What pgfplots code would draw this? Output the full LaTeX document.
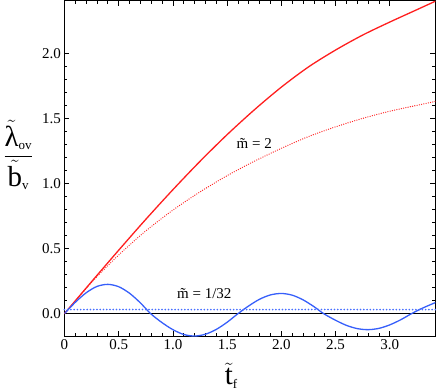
\documentclass[border=0pt]{standalone}
\usepackage{amsmath}
\usepackage{fontspec}
\setmainfont{Liberation Serif}
\usepackage{pgfplots}
\pgfplotsset{compat=1.18}

\definecolor{mred}{RGB}{255,30,30}
\definecolor{mblue}{RGB}{55,95,250}
\definecolor{lblue}{RGB}{70,110,255}

\begin{document}
\begin{tikzpicture}
\begin{axis}[
    scale only axis,
    width=370bp, height=335bp,
    xmin=0, xmax=3.42,
    ymin=-0.175, ymax=2.405,
    xtick={0,0.5,1,1.5,2,2.5,3},
    xticklabels={0,0.5,1.0,1.5,2.0,2.5,3.0},
    ytick={0,0.5,1,1.5,2},
    yticklabels={0.0,0.5,1.0,1.5,2.0},
    minor x tick num=4,
    minor y tick num=4,
    tick align=inside,
    major tick length=5bp,
    minor tick length=3bp,
    axis line style={line width=1.1pt},
    every tick/.style={black, line width=0.7pt},
    tick label style={font=\fontsize{15}{15}\selectfont},
    /pgf/number format/assume math mode=true,
    every axis y label/.style={at={(rel axis cs:0,0.54)}, anchor=center, xshift=-46bp},
    every axis x label/.style={at={(rel axis cs:0.45,0)}, anchor=center, yshift=-39bp},
    ylabel={\fontsize{29}{30}\selectfont$\dfrac{\tilde{\text{λ}}_{\text{\fontsize{13}{13}\selectfont ov}}}{\tilde{\text{b}}_{\text{\fontsize{13}{13}\selectfont v}}}$},
    xlabel={\fontsize{29}{30}\selectfont$\tilde{\text{t}}_{\text{\fontsize{13}{13}\selectfont f}}$},
    clip=true,
]
% zero line
\addplot[black, line width=1.1pt] coordinates {(0,0) (3.42,0)};
% m = 1/32 reference, drawn as a row of small dots
\addplot[only marks, mark=*, mark size=0.6pt, color=lblue, mark options={draw=lblue, fill=lblue}] coordinates {
(0,0.0313) (0.03,0.0313) (0.06,0.0313) (0.09,0.0313) (0.12,0.0313) (0.15,0.0313)
(0.18,0.0313) (0.21,0.0313) (0.24,0.0313) (0.27,0.0313) (0.30,0.0313) (0.33,0.0313)
(0.36,0.0313) (0.39,0.0313) (0.42,0.0313) (0.45,0.0313) (0.48,0.0313) (0.51,0.0313)
(0.54,0.0313) (0.57,0.0313) (0.60,0.0313) (0.63,0.0313) (0.66,0.0313) (0.69,0.0313)
(0.72,0.0313) (0.75,0.0313) (0.78,0.0313) (0.81,0.0313) (0.84,0.0313) (0.87,0.0313)
(0.90,0.0313) (0.93,0.0313) (0.96,0.0313) (0.99,0.0313) (1.02,0.0313) (1.05,0.0313)
(1.08,0.0313) (1.11,0.0313) (1.14,0.0313) (1.17,0.0313) (1.20,0.0313) (1.23,0.0313)
(1.26,0.0313) (1.29,0.0313) (1.32,0.0313) (1.35,0.0313) (1.38,0.0313) (1.41,0.0313)
(1.44,0.0313) (1.47,0.0313) (1.50,0.0313) (1.53,0.0313) (1.56,0.0313) (1.59,0.0313)
(1.62,0.0313) (1.65,0.0313) (1.68,0.0313) (1.71,0.0313) (1.74,0.0313) (1.77,0.0313)
(1.80,0.0313) (1.83,0.0313) (1.86,0.0313) (1.89,0.0313) (1.92,0.0313) (1.95,0.0313)
(1.98,0.0313) (2.01,0.0313) (2.04,0.0313) (2.07,0.0313) (2.10,0.0313) (2.13,0.0313)
(2.16,0.0313) (2.19,0.0313) (2.22,0.0313) (2.25,0.0313) (2.28,0.0313) (2.31,0.0313)
(2.34,0.0313) (2.37,0.0313) (2.40,0.0313) (2.43,0.0313) (2.46,0.0313) (2.49,0.0313)
(2.52,0.0313) (2.55,0.0313) (2.58,0.0313) (2.61,0.0313) (2.64,0.0313) (2.67,0.0313)
(2.70,0.0313) (2.73,0.0313) (2.76,0.0313) (2.79,0.0313) (2.82,0.0313) (2.85,0.0313)
(2.88,0.0313) (2.91,0.0313) (2.94,0.0313) (2.97,0.0313) (3.00,0.0313) (3.03,0.0313)
(3.06,0.0313) (3.09,0.0313) (3.12,0.0313) (3.15,0.0313) (3.18,0.0313) (3.21,0.0313)
(3.24,0.0313) (3.27,0.0313) (3.30,0.0313) (3.33,0.0313) (3.36,0.0313) (3.39,0.0313)
(3.42,0.0313)};
% m = 2, dotted
\addplot[draw=mred, line width=1.3pt, line cap=round, dash pattern=on 0pt off 2.3pt, smooth] coordinates {
(0,0) (0.25,0.24) (0.5,0.45) (0.75,0.635) (1.0,0.795) (1.25,0.935) (1.5,1.06)
(1.75,1.17) (2.0,1.27) (2.25,1.36) (2.5,1.435) (2.75,1.50) (3.0,1.555)
(3.25,1.60) (3.42,1.63)};
% m = 2, solid
\addplot[draw=mred, line width=1.3pt, smooth] coordinates {
(0,0) (0.25,0.245) (0.5,0.487) (0.75,0.724) (1.0,0.952) (1.25,1.17) (1.5,1.375)
(1.75,1.565) (2.0,1.74) (2.25,1.895) (2.5,2.025) (2.75,2.14) (3.0,2.24)
(3.25,2.335) (3.42,2.40)};
% m = 1/32, solid
\addplot[draw=mblue, line width=1.3pt, smooth] coordinates {
(0,0) (0.1,0.087) (0.2,0.160) (0.3,0.209) (0.4,0.225) (0.5,0.207) (0.6,0.157)
(0.7,0.083) (0.795,0) (0.9,-0.069) (1.0,-0.123) (1.1,-0.160) (1.2,-0.172)
(1.3,-0.158) (1.4,-0.121) (1.5,-0.066) (1.6,0) (1.7,0.060) (1.8,0.111)
(1.9,0.144) (2.0,0.155) (2.1,0.142) (2.2,0.106) (2.3,0.054) (2.39,0)
(2.5,-0.051) (2.6,-0.090) (2.7,-0.115) (2.8,-0.123) (2.9,-0.113) (3.0,-0.086)
(3.1,-0.047) (3.2,0) (3.3,0.042) (3.42,0.085)};
\node[font=\fontsize{15}{15}\selectfont] at (axis cs:1.75,1.31) {m̃ = 2};
\node[font=\fontsize{15}{15}\selectfont] at (axis cs:1.29,0.155) {m̃ = 1/32};
\end{axis}
\end{tikzpicture}
\end{document}
